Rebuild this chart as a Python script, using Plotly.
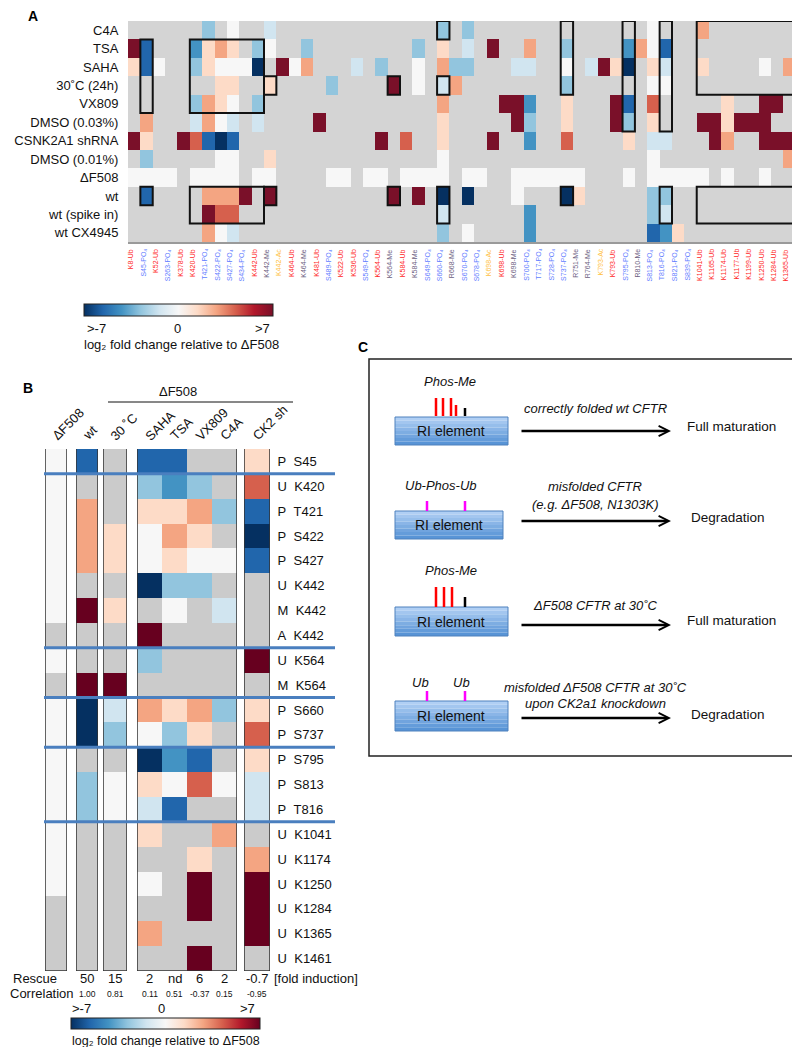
import plotly.graph_objects as go

n = None
FONT = "Liberation Sans, Arial, Helvetica, sans-serif"
W, H = 800, 1047


def px(x):
    return x / W


def py(y):
    return 1 - y / H


# ---------------- Panel A data ----------------
sites_A = ["K8-Ub", "S45-PO4", "K52-Ub", "S263-PO4", "K378-Ub", "K420-Ub", "T421-PO4", "S422-PO4", "S427-PO4", "S434-PO4",
           "K442-Ub", "K442-Me", "K442-Ac", "K464-Ub", "K464-Me", "K481-Ub", "S489-PO4", "K522-Ub", "K536-Ub", "S549-PO4",
           "K564-Ub", "K564-Me", "K584-Ub", "K584-Me", "S649-PO4", "S660-PO4", "R668-Me", "S670-PO4", "S678-PO4", "K698-Ac",
           "K698-Ub", "K698-Me", "S700-PO4", "T717-PO4", "S728-PO4", "S737-PO4", "R751-Me", "R764-Me", "K793-Ac", "K793-Ub",
           "S795-PO4", "R810-Me", "S813-PO4", "T816-PO4", "S821-PO4", "S839-PO4", "K1041-Ub", "K1165-Ub", "K1174-Ub", "K1177-Ub",
           "K1199-Ub", "K1250-Ub", "K1284-Ub", "K1365-Ub", "K1461-Ub"]

conditions_A = ["C4A", "TSA", "SAHA", "30˚C (24h)", "VX809", "DMSO (0.03%)", "CSNK2A1 shRNA",
                "DMSO (0.01%)", "ΔF508", "wt", "wt (spike in)", "wt CX4945"]

A_C4A = [n, n, n, n, n, n, -2.8, n, 0, n,
         n, -1.4, n, n, n, n, n, n, n, n,
         n, n, n, n, n, -2.8, n, -2.8, n, n,
         n, n, n, n, n, n, n, n, n, n,
         n, n, 0, n, n, n, 2.8, n, n, n,
         n, n, n, n, n]
A_TSA = [7, -5.6, n, n, n, -4.2, 1.4, 2.8, 1.4, n,
         -2.8, 0, n, n, -2.8, n, n, n, n, n,
         n, n, n, -2.8, n, 1.4, n, -1.4, n, 7,
         n, n, 2.8, n, n, -2.8, n, n, n, n,
         -4.2, 2.8, 0, -5.6, n, n, n, n, n, n,
         n, n, n, n, n]
A_SAHA = [1.4, -5.6, 0, n, n, -2.8, 1.4, 0, 0, 0,
          -7, n, 7, 0, 2.8, n, n, n, -1.4, n,
          -2.8, n, n, 0, n, 2.8, -2.8, -2.8, n, n,
          n, -1.4, -1.4, n, n, 0, n, -1.4, 7, 1.4,
          -7, n, 1.4, -1.4, n, n, 1.4, n, n, n,
          n, 0, n, 2.8, n]
A_30C = [n, n, n, n, n, n, n, 1.4, 1.4, n,
         n, 1.4, n, n, n, n, -2.8, n, n, n,
         n, 7, n, 0, n, -1.4, 2.8, n, n, n,
         n, n, n, n, n, -2.8, n, n, n, n,
         n, n, 0, 0, n, n, n, n, n, n,
         n, n, n, n, n]
A_VX809 = [n, n, n, n, n, -2.8, 2.8, 1.4, 0, n,
           -2.8, n, n, n, n, n, n, n, n, n,
           n, n, n, n, n, 2.8, n, n, n, n,
           7, 7, -4.2, n, n, 1.4, n, n, n, 7,
           -5.6, n, 4.2, n, n, n, n, n, 1.4, n,
           n, 7, 7, n, 7]
A_DMSO003 = [n, 2.8, n, n, n, -1.4, 2.8, 0, -1.4, n,
             -1.4, n, n, n, n, 7, n, n, n, n,
             n, n, n, n, n, 1.4, n, n, n, n,
             n, 7, -2.8, n, n, 1.4, n, n, n, 7,
             -2.8, n, 1.4, n, n, n, 7, 7, 1.4, 7,
             7, 7, n, n, 7]
A_CSNK = [7, 1.4, n, n, 7, 4.2, -5.6, -7, -5.6, n,
          n, n, n, n, n, n, n, n, n, n,
          7, n, 4.2, n, n, 1.4, n, n, n, 7,
          n, n, -4.2, n, n, 4.2, n, n, n, n,
          1.4, n, -1.4, -1.4, n, n, n, 7, 2.8, n,
          n, 7, 7, 7, n]
A_DMSO001 = [n, -2.8, n, n, n, n, n, 0, 0, n,
             n, 1.4, n, n, n, n, n, n, n, n,
             n, n, n, n, n, 0, n, n, n, n,
             n, n, n, n, n, n, n, n, n, n,
             n, n, 0, n, n, n, n, n, n, n,
             n, n, n, 2.8, n]
A_dF508 = [0, 0, 0, 0, n, 0, 0, 0, 0, n,
           0, 0, n, n, n, n, 0, 0, n, 0,
           0, n, 0, 0, 0, 0, n, 0, 0, n,
           n, 0, 0, 0, 0, 0, 0, n, n, n,
           0, n, 0, 0, 0, 0, 0, n, 0, n,
           n, 0, n, n, n]
A_wt = [n, -5.6, n, n, n, n, 2.8, 2.8, 2.8, 7,
        n, 7, n, n, n, n, n, n, n, n,
        n, 7, n, 7, n, -7, n, -7, n, n,
        n, 0, n, n, n, -7, 1.4, n, n, n,
        n, n, -2.8, -2.8, n, n, n, n, n, n,
        n, n, n, n, n]
A_wt_spike = [n, n, n, n, n, n, 7, 4.2, 4.2, n,
              n, n, n, n, n, n, n, n, n, n,
              n, n, n, n, n, -1.4, n, n, n, n,
              n, n, -4.2, n, n, n, n, n, n, n,
              n, n, -2.8, -1.4, n, n, n, n, n, n,
              n, n, n, n, n]
A_wt_CX = [n, n, n, n, n, n, 2.8, 0, -1.4, n,
           n, n, n, n, n, n, n, n, n, n,
           n, n, n, n, n, -2.8, n, 0, n, n,
           n, n, -4.2, n, n, n, n, n, n, n,
           n, n, -5.6, -4.2, 1.4, n, n, n, n, n,
           n, n, n, n, n]

# highlighted blocks in panel A: (first site, last site, first condition, last condition)
boxes_A = [(1, 1, 1, 4), (5, 10, 1, 4), (11, 11, 3, 3), (1, 1, 9, 9), (5, 10, 9, 10), (11, 11, 9, 9),
           (21, 21, 3, 3), (21, 21, 9, 9), (25, 25, 0, 0), (25, 25, 3, 3), (25, 25, 9, 10),
           (35, 35, 0, 3), (35, 35, 9, 9), (40, 40, 0, 5), (43, 43, 0, 5), (43, 43, 9, 10),
           (46, 54, 0, 3), (46, 54, 9, 10)]

# ---------------- Panel B data ----------------
sites_B = ["P\u00a0\u00a0S45", "U\u00a0\u00a0K420", "P\u00a0\u00a0T421", "P\u00a0\u00a0S422", "P\u00a0\u00a0S427",
           "U\u00a0\u00a0K442", "M\u00a0\u00a0K442", "A\u00a0\u00a0K442", "U\u00a0\u00a0K564", "M\u00a0\u00a0K564",
           "P\u00a0\u00a0S660", "P\u00a0\u00a0S737", "P\u00a0\u00a0S795", "P\u00a0\u00a0S813", "P\u00a0\u00a0T816",
           "U\u00a0\u00a0K1041", "U\u00a0\u00a0K1174", "U\u00a0\u00a0K1250", "U\u00a0\u00a0K1284", "U\u00a0\u00a0K1365",
           "U\u00a0\u00a0K1461"]
B_dF508 = [0, 0, 0, 0, 0, 0, 0, n, 0, n, 0, 0, 0, 0, 0, 0, 0, 0, n, n, n]
B_wt = [-5.6, n, 2.8, 2.8, 2.8, n, 7, n, n, 7, -7, -7, n, -2.8, -2.8, n, n, n, n, n, n]
B_30C = [n, n, n, 1.4, 1.4, n, 1.4, n, n, 7, -1.4, -2.8, n, 0, 0, n, n, n, n, n, n]
B_SAHA = [-5.6, -2.8, 1.4, 0, 0, -7, n, 7, -2.8, n, 2.8, 0, -7, 1.4, -1.4, 1.4, n, 0, n, 2.8, n]
B_TSA = [-5.6, -4.2, 1.4, 2.8, 1.4, -2.8, 0, n, n, n, 1.4, -2.8, -4.2, 0, -5.6, n, n, n, n, n, n]
B_VX809 = [n, -2.8, 2.8, 1.4, 0, -2.8, n, n, n, n, 2.8, 1.4, -5.6, 4.2, n, n, 1.4, 7, 7, n, 7]
B_C4A = [n, n, -2.8, n, 0, n, -1.4, n, n, n, -2.8, n, n, 0, n, 2.8, n, n, n, n, n]
B_CK2 = [1.4, 4.2, -5.6, -7, -5.6, n, n, n, 7, n, 1.4, 4.2, 1.4, -1.4, -1.4, n, 2.8, 7, 7, 7, n]

rescue_B = ["50", "15", "2", "nd", "6", "2", "-0.7"]
correlation_B = ["1.00", "0.81", "0.11", "0.51", "-0.37", "0.15", "-0.95"]
separators_B = [0.5, 7.5, 9.5, 11.5, 14.5]

CS = [[0, '#053061'], [0.1, '#2166ac'], [0.2, '#4393c3'], [0.3, '#92c5de'], [0.4, '#d1e5f0'],
      [0.5, '#f7f7f7'], [0.6, '#fddbc7'], [0.7, '#f4a582'], [0.8, '#d6604d'], [0.9, '#b2182b'], [1, '#67001f']]
CS_A = CS[:-1] + [[1, '#7a1029']]

CB_TITLE = 'log\u2082 fold change relative to ΔF508'

fig = go.Figure()

# ---- Panel A heatmap ----
zA = [A_C4A, A_TSA, A_SAHA, A_30C, A_VX809, A_DMSO003, A_CSNK, A_DMSO001, A_dF508, A_wt, A_wt_spike, A_wt_CX]
fig.add_trace(go.Heatmap(
    z=zA, x=list(range(len(sites_A))), y=list(range(len(conditions_A))),
    zmin=-7, zmax=7, colorscale=CS_A, xaxis='x', yaxis='y', hoverinfo='skip',
    colorbar=dict(orientation='h', x=px(170.5), xanchor='center', y=py(296), yanchor='top',
                  len=189, lenmode='pixels', thickness=12, thicknessmode='pixels',
                  outlinewidth=1, outlinecolor='#222', showticklabels=False, ticks='', xpad=0, ypad=0)))

# ---- Panel B heatmaps ----
groups_B = [
    ('x2', ['ΔF508'], [[v] for v in B_dF508]),
    ('x3', ['wt'], [[v] for v in B_wt]),
    ('x4', ['30 ˚C'], [[v] for v in B_30C]),
    ('x5', ['SAHA', 'TSA', 'VX809', 'C4A'], [list(r) for r in zip(B_SAHA, B_TSA, B_VX809, B_C4A)]),
    ('x6', ['CK2 sh'], [[v] for v in B_CK2]),
]
for ax, cats, z in groups_B:
    show = ax == 'x5'
    fig.add_trace(go.Heatmap(
        z=z, x=cats, y=list(range(len(sites_B))), zmin=-7, zmax=7, colorscale=CS,
        xaxis=ax, yaxis='y2', hoverinfo='skip', showscale=show,
        colorbar=dict(orientation='h', x=px(157.5), xanchor='center', y=py(1010), yanchor='top',
                      len=189, lenmode='pixels', thickness=11, thicknessmode='pixels',
                      outlinewidth=1, outlinecolor='#222', showticklabels=False, ticks='', xpad=0, ypad=0)))

shapes = []
annotations = []

# Panel A background + boxes
shapes.append(dict(type='rect', xref='x', yref='y', x0=-0.5, x1=len(sites_A) - 0.5, y0=-0.5,
                   y1=len(conditions_A) - 0.5, fillcolor='#d4d4d4', line=dict(width=0), layer='below'))
for c0, c1, r0, r1 in boxes_A:
    shapes.append(dict(type='rect', xref='x', yref='y', x0=c0 - 0.5, x1=c1 + 0.5, y0=r0 - 0.5, y1=r1 + 0.5,
                       line=dict(color='#111', width=2), fillcolor='rgba(0,0,0,0)'))


def site_color(s):
    if s.endswith('Ub'):
        return '#ff2626'
    if s.endswith('PO4'):
        return '#5f7dff'
    if s.endswith('Ac'):
        return '#ffc040'
    return '#6b5d80'


for i, s in enumerate(sites_A):
    label = s.replace('PO4', 'PO\u2084')
    annotations.append(dict(xref='x', yref='paper', x=i, y=py(239), xanchor='center', yanchor='top',
                            textangle=-90, text=label, showarrow=False, xshift=-4,
                            font=dict(size=7, color=site_color(s), family=FONT)))

# Colorbar A labels
for t, x in [('>-7', 88), ('0', 169), ('>7', 255)]:
    annotations.append(dict(xref='paper', yref='paper', x=px(x), y=py(320), text=t, showarrow=False,
                            xanchor='center', yanchor='middle', font=dict(size=13, color='#111', family=FONT)))
annotations.append(dict(xref='paper', yref='paper', x=px(173), y=py(336), text=CB_TITLE, showarrow=False,
                        xanchor='center', yanchor='middle', font=dict(size=13, color='#111', family=FONT)))

# Panel B backgrounds, outlines, headers
for ax, cats, z in groups_B:
    k = len(cats)
    shapes.append(dict(type='rect', xref=ax, yref='y2', x0=-0.5, x1=k - 0.5, y0=-0.5, y1=len(sites_B) - 0.5,
                       fillcolor='#cbcbcb', line=dict(width=0), layer='below'))
    shapes.append(dict(type='rect', xref=ax, yref='y2', x0=-0.5, x1=k - 0.5, y0=-0.6, y1=len(sites_B) - 0.5,
                       line=dict(color='#333', width=1.5), fillcolor='rgba(0,0,0,0)'))
    for c in cats:
        annotations.append(dict(xref=ax, yref='paper', x=c, y=py(438), xanchor='left', yanchor='bottom',
                                textangle=-45, text=c, showarrow=False, xshift=-10,
                                font=dict(size=13, color='#111', family=FONT)))

for s in separators_B:
    shapes.append(dict(type='line', xref='paper', yref='y2', x0=px(36), x1=px(327), y0=s, y1=s,
                       line=dict(color='#4a7fbf', width=3)))

# ΔF508 group header
shapes.append(dict(type='line', xref='paper', yref='paper', x0=px(100), x1=px(285), y0=py(394), y1=py(394),
                   line=dict(color='#111', width=1)))
annotations.append(dict(xref='paper', yref='paper', x=px(170), y=py(383), text='ΔF508', showarrow=False,
                        xanchor='center', yanchor='middle', font=dict(size=13, color='#111', family=FONT)))

# Rescue / correlation rows
col_refs = [('x3', 'wt'), ('x4', '30 ˚C'), ('x5', 'SAHA'), ('x5', 'TSA'), ('x5', 'VX809'), ('x5', 'C4A'), ('x6', 'CK2 sh')]
for (ax, c), r, cr in zip(col_refs, rescue_B, correlation_B):
    annotations.append(dict(xref=ax, yref='paper', x=c, y=py(970), text=r, showarrow=False,
                            xanchor='center', yanchor='middle', font=dict(size=13, color='#111', family=FONT)))
    annotations.append(dict(xref=ax, yref='paper', x=c, y=py(986), text=cr, showarrow=False,
                            xanchor='center', yanchor='middle', font=dict(size=8.5, color='#111', family=FONT)))
annotations.append(dict(xref='paper', yref='paper', x=px(264), y=py(970), text='[fold induction]', showarrow=False,
                        xanchor='left', yanchor='middle', font=dict(size=13, color='#111', family=FONT)))
annotations.append(dict(xref='paper', yref='paper', x=px(3), y=py(970), text='Rescue', showarrow=False,
                        xanchor='left', yanchor='middle', font=dict(size=13, color='#111', family=FONT)))
annotations.append(dict(xref='paper', yref='paper', x=px(0), y=py(985), text='Correlation', showarrow=False,
                        xanchor='left', yanchor='middle', font=dict(size=13, color='#111', family=FONT)))

# Colorbar B labels
for t, x in [('>-7', 73), ('0', 153), ('>7', 239)]:
    annotations.append(dict(xref='paper', yref='paper', x=px(x), y=py(1000), text=t, showarrow=False,
                            xanchor='center', yanchor='middle', font=dict(size=13, color='#111', family=FONT)))
annotations.append(dict(xref='paper', yref='paper', x=px(158), y=py(1033), text=CB_TITLE, showarrow=False,
                        xanchor='center', yanchor='middle', font=dict(size=12.5, color='#111', family=FONT)))

# Panel letters
for t, x, y in [('A', 25, 8), ('B', 20, 380), ('C', 355, 339)]:
    annotations.append(dict(xref='paper', yref='paper', x=px(x), y=py(y), text='<b>' + t + '</b>', showarrow=False,
                            xanchor='center', yanchor='middle', font=dict(size=14, color='#000', family=FONT)))

# ---------------- Panel C diagram ----------------
shapes.append(dict(type='rect', xref='paper', yref='paper', x0=px(361), x1=px(788), y0=py(351), y1=py(748),
                   line=dict(color='#222', width=1.5), fillcolor='rgba(0,0,0,0)'))


def ri_box(x0, x1, y0, y1):
    steps = 8
    top = (176, 207, 244)
    bot = (88, 148, 214)
    h = (y1 - y0) / steps
    for i in range(steps):
        f = i / (steps - 1)
        col = 'rgb(%d,%d,%d)' % tuple(int(top[j] + (bot[j] - top[j]) * f) for j in range(3))
        shapes.append(dict(type='rect', xref='paper', yref='paper', x0=px(x0), x1=px(x1),
                           y0=py(y0 + i * h), y1=py(y0 + (i + 1) * h), fillcolor=col, line=dict(width=0)))
    shapes.append(dict(type='rect', xref='paper', yref='paper', x0=px(x0), x1=px(x1), y0=py(y0), y1=py(y1),
                       fillcolor='rgba(0,0,0,0)', line=dict(color='#4f81bd', width=1)))
    annotations.append(dict(xref='paper', yref='paper', x=px((x0 + x1) / 2), y=py((y0 + y1) / 2),
                            text='RI element', showarrow=False, xanchor='center', yanchor='middle',
                            font=dict(size=14, color='#111', family=FONT)))


def bar(x, y0, y1, color):
    shapes.append(dict(type='line', xref='paper', yref='paper', x0=px(x), x1=px(x), y0=py(y0), y1=py(y1),
                       line=dict(color=color, width=2.5)))


def txt(t, x, y, anchor='center', size=13):
    annotations.append(dict(xref='paper', yref='paper', x=px(x), y=py(y), text=t, showarrow=False,
                            xanchor=anchor, yanchor='middle', font=dict(size=size, color='#111', family=FONT)))


def arrow(x0, x1, y):
    annotations.append(dict(xref='paper', yref='paper', x=px(x1), y=py(y), ax=-(x1 - x0), ay=0,
                            axref='pixel', ayref='pixel', text='', showarrow=True, arrowhead=5,
                            arrowsize=0.8, arrowwidth=2.5, arrowcolor='#000', standoff=0))


# Row 1
ri_box(387, 500, 409, 437)
for x in (428, 435, 443):
    bar(x, 390, 408, '#ff0000')
bar(448, 397, 408, '#ff0000')
bar(457, 400, 408, '#000000')
txt('<i>Phos-Me</i>', 442, 373)
txt('<i>correctly folded wt CFTR</i>', 587, 400)
arrow(512, 663, 423)
txt('Full maturation', 677, 419, 'left', 13.5)

# Row 2
ri_box(387, 495, 503, 531)
bar(419, 493, 503, '#ff00ff')
bar(457, 493, 503, '#ff00ff')
txt('<i>Ub-Phos-Ub</i>', 433, 477)
txt('<i>misfolded CFTR</i>', 587, 478)
txt('<i>(e.g. ΔF508, N1303K)</i>', 587, 496)
arrow(512, 663, 513)
txt('Degradation', 681, 509, 'left', 13.5)

# Row 3
ri_box(387, 500, 599, 628)
for x in (428, 436, 444):
    bar(x, 579, 599, '#ff0000')
bar(457, 589, 599, '#000000')
txt('<i>Phos-Me</i>', 443, 562)
txt('<i>ΔF508 CFTR at 30˚C</i>', 587, 597)
arrow(512, 663, 617)
txt('Full maturation', 677, 612, 'left', 13.5)

# Row 4
ri_box(387, 500, 693, 723)
bar(419, 683, 693, '#ff00ff')
bar(457, 683, 693, '#ff00ff')
txt('<i>Ub</i>', 412, 674)
txt('<i>Ub</i>', 453, 674)
txt('<i>misfolded ΔF508 CFTR at 30˚C</i>', 587, 679)
txt('<i>upon CK2a1 knockdown</i>', 587, 695)
arrow(512, 663, 710)
txt('Degradation', 681, 706, 'left', 13.5)

# ---------------- Layout ----------------
noaxis = dict(showgrid=False, zeroline=False, showticklabels=False, ticks='', fixedrange=True)
layout = dict(
    width=W, height=H, margin=dict(l=0, r=0, t=0, b=0),
    paper_bgcolor='white', plot_bgcolor='rgba(0,0,0,0)',
    font=dict(family=FONT, color='#111'),
    showlegend=False,
    xaxis=dict(domain=[px(120), 1.0], range=[-0.5, len(sites_A) - 0.5], anchor='y',
               showgrid=False, zeroline=False, showticklabels=False, ticks='',
               showline=True, linecolor='#9a9a9a', linewidth=1.5),
    yaxis=dict(domain=[py(234), py(13)], range=[len(conditions_A) - 0.5, -0.5], anchor='x',
               tickvals=list(range(len(conditions_A))), ticktext=conditions_A,
               tickfont=dict(size=13, color='#111', family=FONT), ticks='outside', ticklen=6,
               tickcolor='rgba(0,0,0,0)', showgrid=False, zeroline=False),
    yaxis2=dict(domain=[py(963), py(441)], range=[len(sites_B) - 0.5, -0.5], anchor='x6', side='right',
                tickvals=list(range(len(sites_B))), ticktext=sites_B,
                tickfont=dict(size=13, color='#111', family=FONT), ticks='outside', ticklen=4,
                tickcolor='rgba(0,0,0,0)', showgrid=False, zeroline=False),
    shapes=shapes, annotations=annotations,
)
domains_B = {'x2': (37, 59), 'x3': (68, 90), 'x4': (95, 119), 'x5': (129, 229), 'x6': (236, 262)}
for ax, cats, z in groups_B:
    a, b = domains_B[ax]
    layout['xaxis' + ax[1:]] = dict(noaxis, domain=[px(a), px(b)], anchor='y2', type='category',
                                    categoryarray=cats, range=[-0.5, len(cats) - 0.5])

fig.update_layout(**layout)
fig.write_html("out.html")
